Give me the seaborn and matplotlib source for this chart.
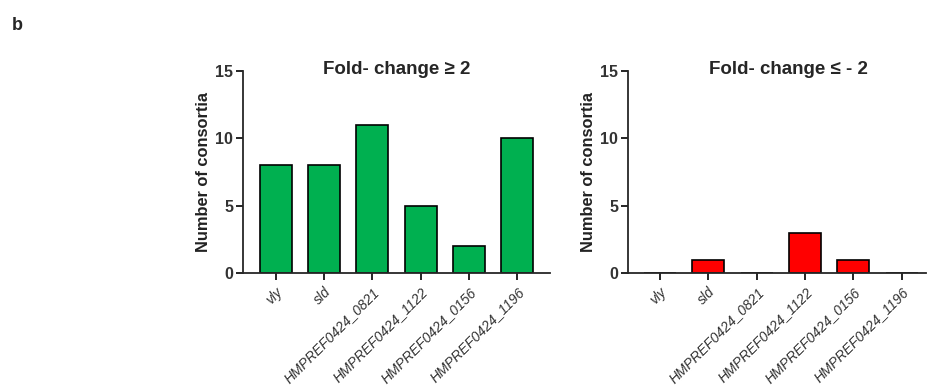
import matplotlib
matplotlib.use("Agg")
import matplotlib.pyplot as plt
import seaborn as sns
import pandas as pd

# data
genes = ["vly", "sld", "HMPREF0424_0821", "HMPREF0424_1122",
         "HMPREF0424_0156", "HMPREF0424_1196"]
up_counts = [8, 8, 11, 5, 2, 10]
down_counts = [0, 1, 0, 3, 1, 0]
panel_titles = ["Fold- change \u2265 2", "Fold- change \u2264 - 2"]
bar_colors = ["#00B050", "#FF0000"]

sns.set_style("white")
plt.rcParams["font.family"] = ["Liberation Sans", "DejaVu Sans"]
plt.rcParams["axes.linewidth"] = 1.3

fig = plt.figure(figsize=(9.27, 3.85), dpi=100)
ax1 = fig.add_axes([243 / 927, 1 - 273 / 385, 307 / 927, 202 / 385])
ax2 = fig.add_axes([628 / 927, 1 - 273 / 385, 298 / 927, 202 / 385])

# (axis, values, xlim, title x position)
panels = [(ax1, up_counts, (-0.68, 5.68), 0.5),
          (ax2, down_counts, (-0.66, 5.5), 0.54)]

for i, (ax, counts, xl, tx) in enumerate(panels):
    df = pd.DataFrame({"gene": genes, "count": counts})
    sns.barplot(data=df, x="gene", y="count", color=bar_colors[i],
                saturation=1, width=0.66, edgecolor="black", linewidth=1.2, ax=ax)
    ax.set_xlim(*xl)
    ax.set_ylim(0, 15)
    ax.set_yticks([0, 5, 10, 15])
    ax.set_yticklabels(["0", "5", "10", "15"], fontsize=11.5, fontweight="bold",
                       color="#333333")
    ax.set_xticks(range(len(genes)))
    ax.set_xticklabels(genes, rotation=45, ha="right", rotation_mode="anchor",
                       fontsize=10, style="italic", color="#333333")
    ax.tick_params(axis="both", direction="out", length=5, width=1.2,
                   left=True, bottom=True, color="black")
    ax.tick_params(axis="y", pad=2)
    ax.set_xlabel("")
    ax.set_ylabel("Number of consortia", fontsize=11.8, fontweight="bold",
                  color="#222222", labelpad=3)
    ax.set_title(panel_titles[i], fontsize=13.5, fontweight="bold", pad=-2, x=tx)
    sns.despine(ax=ax)

fig.text(12 / 927, 1 - 25 / 385, "b", fontsize=13, fontweight="bold",
         va="center", ha="left")

fig.savefig("out.png", dpi=100)
